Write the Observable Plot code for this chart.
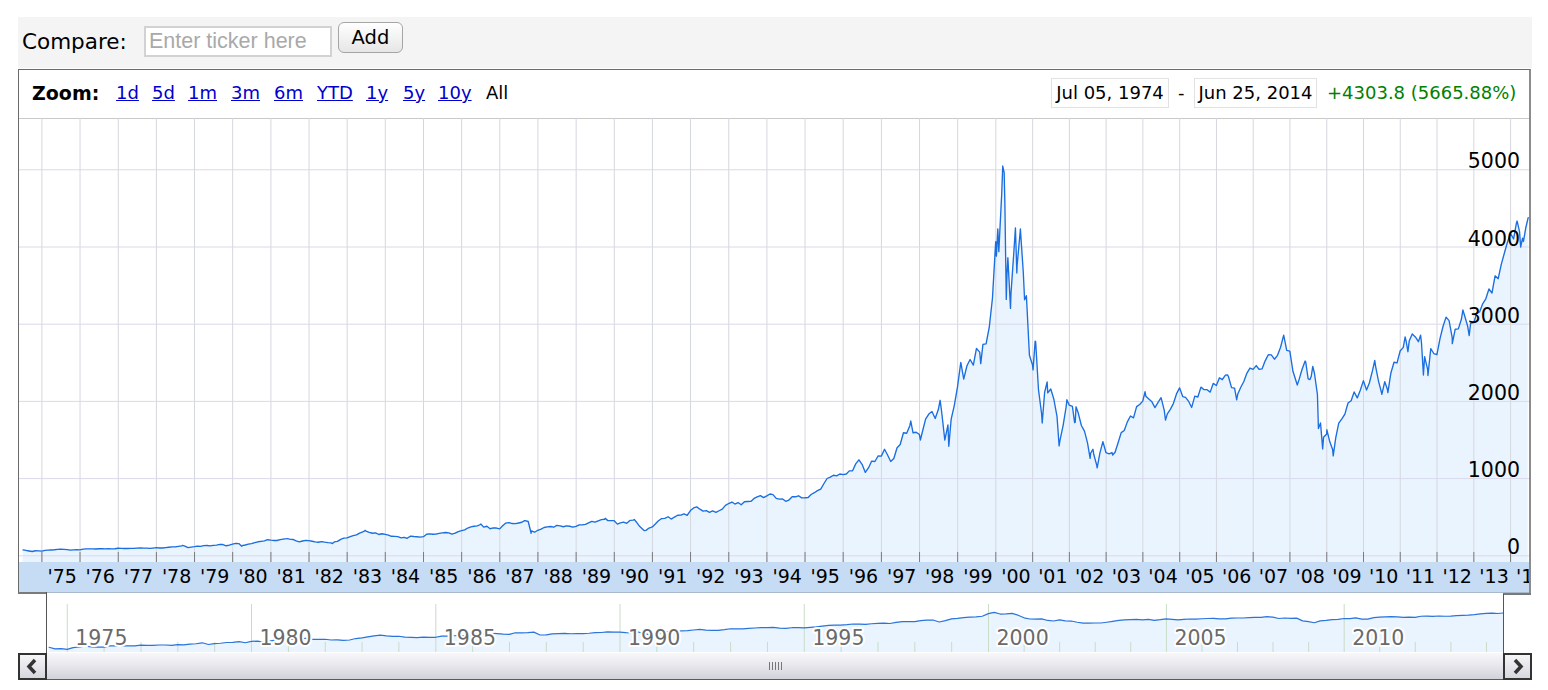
<!DOCTYPE html>
<html><head><meta charset="utf-8">
<script src="https://cdn.jsdelivr.net/npm/d3@7"></script>
<script src="https://cdn.jsdelivr.net/npm/@observablehq/plot@0.6"></script>
<style>
html,body{margin:0;padding:0;background:#fff}
body{width:1548px;height:690px;position:relative;overflow:hidden;font-family:"DejaVu Sans",Verdana,sans-serif;color:#000}
.a{position:absolute;white-space:nowrap}
#cmpbar{left:18px;top:17px;width:1514px;height:51px;background:#f4f4f4}
#frame{left:18px;top:69px;width:1510px;height:523px;border-left:1px solid #6a6a6a;border-top:1px solid #6a6a6a;border-right:2px solid #8c8c8c;background:#fff}
.lnk{color:#0000cc;text-decoration:underline;font-size:18px;line-height:22px;top:82px}
.datebox{top:78px;height:28px;border:1px solid #e2e2e2;font-size:18px;line-height:28px;text-align:center;background:#fff}
#band{left:19px;top:562px;width:1510px;height:30px;background:#c6dbf4;border-bottom:1px solid #a9b9cc}
#main{left:19px;top:118px}
#nav{left:46px;top:592px}
.scroll{top:653px;height:26px;background:linear-gradient(#f8f8fa,#e8e8ee 45%,#d2d2da);border-bottom:1px solid #5a5a5a}
.btn{top:653px;width:25px;height:23px;border:2px solid #333;background:linear-gradient(#f6f6f8,#d6d6de)}
</style></head><body>
<div class="a" id="cmpbar"></div>
<div class="a" style="left:22px;top:28px;font-size:21.5px;line-height:27px">Compare:</div>
<div class="a" style="left:144px;top:26px;width:184px;height:27px;border:2px solid #d2d2d2;background:#fff"></div>
<div class="a" style="left:149px;top:27px;font-family:'Liberation Sans',Arial,sans-serif;font-size:21.5px;line-height:28px;color:#a9a9a9">Enter ticker here</div>
<div class="a" style="left:338px;top:22px;width:63px;height:29px;border:1px solid #a5a5a5;border-radius:6px;background:linear-gradient(#ffffff,#e6e6e6);font-size:19.5px;line-height:29px;text-align:center">Add</div>

<div class="a" id="frame"></div>
<div class="a" style="left:19px;top:118px;width:1510px;height:1px;background:#c9c9c9"></div>
<div class="a" style="left:32px;top:82px;font-size:19px;line-height:22px;font-weight:bold">Zoom:</div>
<div class="a lnk" style="left:116px">1d</div>
<div class="a lnk" style="left:152px">5d</div>
<div class="a lnk" style="left:188px">1m</div>
<div class="a lnk" style="left:231px">3m</div>
<div class="a lnk" style="left:274px">6m</div>
<div class="a lnk" style="left:317px">YTD</div>
<div class="a lnk" style="left:366px">1y</div>
<div class="a lnk" style="left:403px">5y</div>
<div class="a lnk" style="left:438px">10y</div>
<div class="a" style="left:486px;top:82px;font-size:18px;line-height:22px">All</div>
<div class="a datebox" style="left:1051px;width:116px">Jul 05, 1974</div>
<div class="a" style="left:1178px;top:82px;font-size:18px;line-height:22px">-</div>
<div class="a datebox" style="left:1194px;width:121px">Jun 25, 2014</div>
<div class="a" style="left:1327px;top:82px;font-size:18px;line-height:22px;color:#008000">+4303.8 (5665.88%)</div>

<div class="a" id="band"></div>
<div class="a" id="main"></div>
<div class="a" style="left:18px;top:592px;width:28px;height:2px;background:#7a7a7a"></div>
<div class="a" style="left:1503px;top:593px;width:28px;height:2px;background:#7a7a7a"></div>
<div class="a" id="nav"></div>
<div class="a" style="left:46px;top:592px;width:1px;height:61px;background:#555"></div>
<div class="a" style="left:1503px;top:594px;width:1px;height:59px;background:#555"></div>

<div class="a scroll" style="left:18px;width:1512px"></div>
<div class="a" style="left:769px;top:662px;width:15px;height:8px;background:repeating-linear-gradient(90deg,#777 0 1px,transparent 1px 3px)"></div>
<div class="a btn" style="left:18px"><svg width="25" height="23"><path d="M15 5 L9 11.5 L15 18" fill="none" stroke="#333" stroke-width="3.5"/></svg></div>
<div class="a btn" style="left:1503px"><svg width="25" height="23"><path d="M10 5 L16 11.5 L10 18" fill="none" stroke="#333" stroke-width="3.5"/></svg></div>

<script>
// ---- data (NASDAQ Composite) ----
const monthlyClose = [
  // 1974 Jul-Dec
  69.99, 62.37, 55.67, 65.23, 62.95, 59.82,
  // 1975
  70.7, 73.0, 75.7, 78.5, 83.1, 87.0, 83.8, 79.0, 74.3, 77.1, 78.8, 77.6,
  // 1976
  87.1, 90.3, 90.6, 89.2, 88.0, 91.1, 91.3, 89.7, 91.3, 89.3, 91.0, 97.9,
  // 1977
  96.0, 94.6, 94.1, 95.7, 95.8, 99.7, 100.7, 99.2, 99.3, 96.0, 100.2, 105.1,
  // 1978
  100.8, 101.1, 106.2, 111.1, 116.1, 115.0, 122.0, 129.2, 125.5, 105.6, 111.8, 118.0,
  // 1979
  125.8, 122.4, 131.8, 133.8, 128.9, 135.5, 138.0, 147.3, 146.2, 130.0, 139.1, 151.1,
  // 1980
  161.8, 158.0, 131.0, 139.9, 150.4, 157.8, 171.8, 181.5, 187.8, 192.8, 208.2, 202.3,
  // 1981
  197.8, 198.0, 210.2, 216.7, 221.8, 215.8, 211.6, 194.4, 180.0, 191.4, 200.1, 195.8,
  // 1982
  188.4, 179.4, 175.7, 183.3, 176.5, 171.3, 167.4, 180.0, 187.7, 213.5, 228.0, 232.4,
  // 1983
  248.4, 260.7, 270.8, 293.1, 308.7, 318.7, 303.9, 292.4, 296.7, 276.0, 285.7, 278.6,
  // 1984
  268.4, 252.6, 250.8, 247.4, 232.8, 239.7, 230.9, 254.6, 249.9, 247.0, 242.5, 247.4,
  // 1985
  278.7, 284.2, 279.2, 280.6, 290.8, 296.2, 301.3, 297.7, 280.3, 292.5, 313.9, 324.9,
  // 1986
  335.8, 359.5, 374.7, 383.2, 387.8, 405.5, 371.4, 382.9, 350.7, 360.8, 359.6, 349.0,
  // 1987
  392.1, 424.0, 430.1, 417.8, 416.0, 424.7, 434.9, 454.6, 444.3, 323.3, 305.2, 330.5,
  // 1988
  344.7, 366.6, 374.6, 379.2, 370.3, 394.7, 387.3, 376.6, 387.7, 382.5, 371.5, 381.4,
  // 1989
  401.3, 399.7, 406.7, 427.5, 446.2, 435.3, 453.8, 469.3, 472.9, 455.6, 456.1, 454.8,
  // 1990
  410.7, 425.8, 435.5, 420.1, 458.0, 462.3, 438.2, 381.2, 344.5, 329.8, 359.1, 373.8,
  // 1991
  414.2, 453.1, 482.3, 484.7, 506.1, 475.9, 502.0, 525.7, 526.9, 543.0, 523.9, 586.3,
  // 1992
  620.2, 633.5, 603.8, 578.7, 585.3, 563.6, 580.8, 563.1, 583.3, 605.2, 652.7, 677.0,
  // 1993
  696.3, 670.8, 690.1, 661.4, 700.5, 703.9, 704.7, 742.8, 762.8, 779.3, 754.4, 776.8,
  // 1994
  800.5, 793.0, 743.5, 733.8, 735.2, 706.0, 722.2, 765.6, 764.3, 777.5, 750.3, 752.0,
  // 1995
  755.2, 793.7, 817.2, 844.0, 864.6, 933.5, 1001.2, 1020.1, 1043.5, 1036.1, 1059.2, 1052.1,
  // 1996
  1059.8, 1100.1, 1101.4, 1190.5, 1243.4, 1185.0, 1080.6, 1141.5, 1226.9, 1221.5, 1292.6, 1291.0,
  // 1997
  1379.9, 1309.0, 1221.7, 1260.8, 1400.3, 1442.1, 1593.8, 1587.3, 1685.7, 1593.6, 1600.6, 1570.4,
  // 1998
  1619.4, 1770.5, 1835.7, 1868.4, 1778.9, 1894.7, 1872.4, 1499.3, 1694.8, 1771.4, 1949.5, 2192.7,
  // 1999
  2505.9, 2288.0, 2461.4, 2542.9, 2470.5, 2686.1, 2638.5, 2739.4, 2746.2, 2966.4, 3336.2, 4069.3,
  // 2000
  3940.4, 4696.7, 4572.8, 3860.7, 3400.9, 3966.1, 3767.0, 4206.4, 3672.8, 3369.6, 2597.9, 2470.5,
  // 2001
  2772.7, 2151.8, 1840.3, 2116.2, 2110.5, 2160.5, 2027.1, 1805.4, 1498.8, 1690.2, 1930.6, 1950.4,
  // 2002
  1934.0, 1731.5, 1845.4, 1688.2, 1615.7, 1463.2, 1328.3, 1314.9, 1172.1, 1329.8, 1478.8, 1335.5,
  // 2003
  1320.9, 1337.5, 1341.2, 1464.3, 1595.9, 1622.8, 1735.0, 1810.5, 1786.9, 1932.2, 1960.3, 2003.4,
  // 2004
  2066.2, 2029.8, 1994.2, 1920.2, 1986.7, 2047.8, 1887.4, 1838.1, 1896.8, 1975.0, 2096.8, 2175.4,
  // 2005
  2062.4, 2051.7, 1999.2, 1921.7, 2068.2, 2057.0, 2184.8, 2152.1, 2151.7, 2120.3, 2232.8, 2205.3,
  // 2006
  2305.8, 2281.4, 2339.8, 2322.6, 2178.9, 2172.1, 2091.5, 2183.8, 2258.4, 2366.7, 2431.8, 2415.3,
  // 2007
  2463.9, 2416.2, 2421.6, 2525.1, 2604.5, 2603.2, 2546.3, 2596.4, 2701.5, 2859.1, 2661.0, 2652.3,
  // 2008
  2389.9, 2271.5, 2279.1, 2412.8, 2522.7, 2293.0, 2325.6, 2367.5, 2091.9, 1721.0, 1535.6, 1577.0,
  // 2009
  1476.4, 1377.8, 1528.6, 1717.3, 1774.3, 1835.0, 1979.0, 2009.1, 2122.4, 2045.1, 2144.6, 2269.2,
  // 2010
  2147.4, 2238.3, 2398.0, 2461.2, 2257.0, 2109.2, 2255.0, 2114.0, 2368.6, 2507.4, 2498.2, 2652.9,
  // 2011
  2700.1, 2782.3, 2781.1, 2873.5, 2835.3, 2773.5, 2756.4, 2579.5, 2415.4, 2684.4, 2620.3, 2605.2,
  // 2012
  2813.8, 2966.9, 3091.6, 3046.4, 2827.3, 2935.1, 2939.5, 3067.0, 3116.2, 2977.2, 3010.2, 3019.5,
  // 2013
  3142.1, 3160.2, 3267.5, 3328.8, 3455.9, 3403.3, 3626.4, 3589.9, 3771.5, 3919.7, 4059.9, 4176.6,
  // 2014 Jan-Jun
  4103.9, 4308.1, 4199.0, 4114.6, 4242.6, 4379.8
];
// weekly closes at the visible turning points
const weeklyDates = ["1974-07-05","1978-09-08","1980-03-28","1981-06-05","1982-08-13","1983-06-24","1984-07-27","1986-07-03","1987-08-26","1987-10-28","1989-10-06","1990-07-13","1990-10-16","1997-10-09","1998-01-09","1998-07-17","1998-10-08","1999-08-10","2000-01-07","2000-01-21","2000-03-10","2000-03-24","2000-04-14","2000-04-21","2000-05-26","2000-07-14","2000-07-28","2000-09-01","2000-10-13","2001-01-05","2001-01-26","2001-04-06","2001-05-25","2001-09-21","2001-12-07","2002-02-22","2002-03-08","2002-07-26","2002-08-23","2002-10-04","2003-03-07","2004-01-23","2004-08-13","2006-04-21","2006-07-21","2008-03-14","2008-06-06","2008-07-18","2008-08-15","2008-10-10","2008-11-21","2009-01-02","2009-03-06","2010-04-23","2010-07-02","2010-08-27","2011-02-18","2011-03-18","2011-07-22","2011-08-19","2011-10-03","2012-06-01","2012-09-14","2012-11-16","2014-03-07","2014-04-11","2014-05-09"];
const weeklyCloses = [75.96,135.0,124.1,223.5,159.1,328.9,225.3,411.2,455.3,291.9,485.7,469.6,325.4,1745.9,1500,2014.3,1419.1,2490.1,3882,4235.4,5048.6,4963.0,3321.3,3643.9,3205.1,4246.2,3663,4234.3,3316.8,2407.7,2781.3,1720.4,2251,1423.2,2021.3,1724.5,1929.5,1262.1,1380.6,1139.9,1305,2124.8,1757.2,2342.9,2020.4,2212,2508,2282.8,2452.5,1649.5,1384.4,1632.2,1293.9,2530.2,2091.8,2153.6,2834.0,2643.7,2858.8,2341.8,2335.8,2747.5,3184.0,2853.1,4336.2,3999.7,4071.9];

const yTicks = [0, 1000, 2000, 3000, 4000, 5000];
const axisYears = [1975,1976,1977,1978,1979,1980,1981,1982,1983,1984,1985,1986,1987,1988,1989,1990,1991,1992,1993,1994,1995,1996,1997,1998,1999,2000,2001,2002,2003,2004,2005,2006,2007,2008,2009,2010,2011,2012,2013,2014];
const navLabelYears = [1975, 1980, 1985, 1990, 1995, 2000, 2005, 2010];

// ---- build series ----
const START = new Date(Date.UTC(1974, 6, 5));
const END = new Date(Date.UTC(2014, 5, 25));
const series = [];
monthlyClose.forEach((v, i) => {
  const y = 1974 + Math.floor((6 + i) / 12), m = (6 + i) % 12;
  let d = new Date(Date.UTC(y, m + 1, 0));
  if (d > END) d = END;
  series.push({date: d, close: v, monthly: i});
});
weeklyDates.forEach((s, i) => series.push({date: new Date(s + "T00:00:00Z"), close: weeklyCloses[i], monthly: -1}));
series.sort((a, b) => a.date - b.date);
const navSeries = series.filter(d => d.date.getTime() === START.getTime() || (d.monthly >= 0 && (d.monthly % 2 === 1 || d.date.getTime() === END.getTime())));
const yearDate = y => new Date(Date.UTC(y, 0, 1));
const MID = new Date(Date.UTC(2000, 0, 1));

// ---- main chart ----
const fillFloor = -87;
const main = Plot.plot({
  width: 1510, height: 475,
  marginTop: 0, marginLeft: 0, marginRight: 0, marginBottom: 31,
  style: {background: "transparent", fontFamily: "DejaVu Sans, Verdana, sans-serif", overflow: "hidden"},
  x: {type: "utc", domain: [START, MID, END], range: [3.6, 976.3, 1508.7], axis: null},
  y: {type: "linear", domain: [0, 5000], range: [437.3, 51.3], axis: null},
  marks: [
    Plot.areaY(series, {x: "date", y1: fillFloor, y2: "close", fill: "#eaf4fe"}),
    Plot.ruleX(axisYears, {x: yearDate, stroke: "#d5d7de", strokeWidth: 1}),
    Plot.ruleY(yTicks, {y: d => d, stroke: "#d9d9ec", strokeWidth: 1}),
    Plot.ruleX(axisYears, {x: yearDate, stroke: "#7c7c7c", strokeWidth: 1, insetTop: 434}),
    Plot.line(series, {x: "date", y: "close", stroke: "#1a6ee0", strokeWidth: 1.35}),
    Plot.text(yTicks, {y: d => d, text: d => String(d), frameAnchor: "right", lineAnchor: "middle", textAnchor: "end", dx: -9.5, dy: -8, fontSize: 20.5, fill: "#000"}),
    Plot.text(axisYears, {x: yearDate, text: d => "'" + String(d).slice(2), frameAnchor: "bottom", lineAnchor: "middle", textAnchor: "start", dx: 5.5, dy: 14, fontSize: 19, fill: "#000"})
  ]
});
main.style.overflow = "hidden";
document.getElementById("main").appendChild(main);

// ---- navigator ----
const navFloor = 41;
const nav = Plot.plot({
  width: 1457, height: 60,
  margin: 0,
  style: {background: "transparent", fontFamily: "DejaVu Sans, Verdana, sans-serif", overflow: "hidden"},
  x: {type: "utc", domain: [START, MID, END], range: [2.6, 942, 1457], axis: null},
  y: {type: "log", domain: [navFloor, 11900], range: [60, 12], axis: null},
  marks: [
    Plot.areaY(navSeries, {x: "date", y1: navFloor, y2: "close", fill: "#eaf4fe"}),
    Plot.ruleX(navLabelYears, {x: yearDate, stroke: "#c9dcc6", strokeWidth: 1, insetTop: 12}),
    Plot.ruleX(axisYears.filter(y => !navLabelYears.includes(y)), {x: yearDate, stroke: "#c9dcc6", strokeWidth: 1, insetTop: 50}),
    Plot.line(navSeries, {x: "date", y: "close", stroke: "#2a74dc", strokeWidth: 1.2}),
    Plot.text(navLabelYears, {x: yearDate, text: d => String(d), frameAnchor: "bottom", lineAnchor: "middle", textAnchor: "start", dx: 8, dy: -14, fontSize: 20.5, fill: "#6a6a6a", stroke: "#fff", strokeWidth: 4})
  ]
});
nav.style.overflow = "hidden";
document.getElementById("nav").appendChild(nav);
</script>
</body></html>
